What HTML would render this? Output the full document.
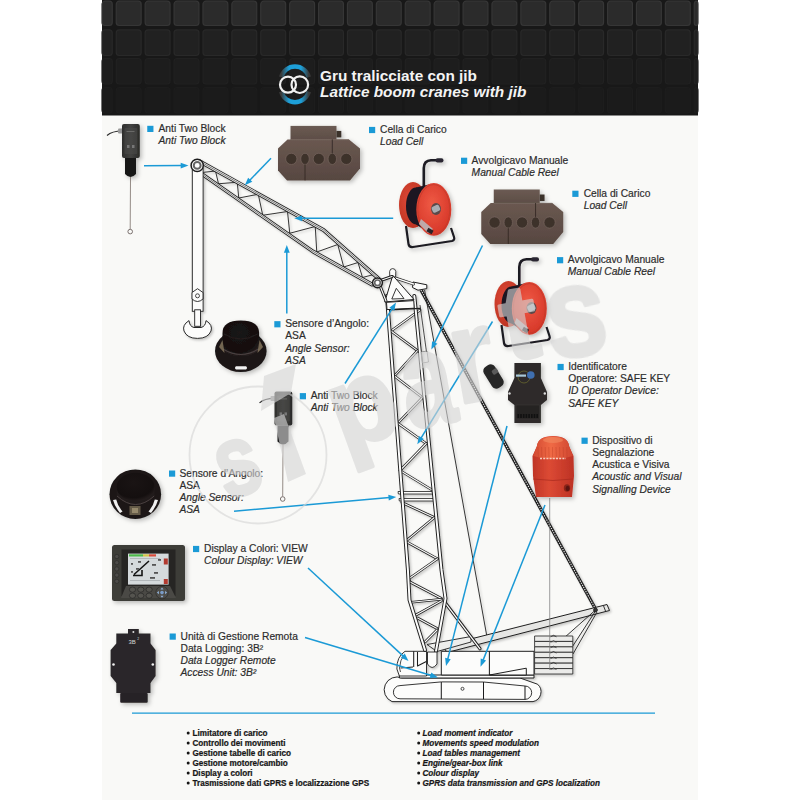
<!DOCTYPE html><html><head><meta charset="utf-8"><style>
html,body{margin:0;padding:0;background:#fff;width:800px;height:800px;overflow:hidden}
svg{display:block;position:absolute;left:0;top:0}
text{font-family:"Liberation Sans",sans-serif}
</style></head><body>
<svg width="800" height="800" viewBox="0 0 800 800">
<defs>
<filter id="sh" x="-10%" y="-10%" width="130%" height="130%"><feDropShadow dx="1.5" dy="1.5" stdDeviation="1.2" flood-color="#000" flood-opacity="0.22"/></filter>
<filter id="sh2" x="-20%" y="-20%" width="150%" height="150%"><feDropShadow dx="2" dy="2" stdDeviation="2" flood-color="#000" flood-opacity="0.25"/></filter>
<linearGradient id="hdr" x1="0" y1="0" x2="0" y2="1"><stop offset="0" stop-color="#1e1e1e"/><stop offset="1" stop-color="#161616"/></linearGradient>
<linearGradient id="blueArc" x1="0" y1="0" x2="1" y2="0"><stop offset="0" stop-color="#3a3a3a"/><stop offset="0.28" stop-color="#1d9fd8"/><stop offset="0.72" stop-color="#1d9fd8"/><stop offset="1" stop-color="#3a3a3a"/></linearGradient>
</defs>
<rect x="102" y="0" width="596" height="800" fill="#f9f9f7"/>
<rect x="102" y="0" width="596" height="115.5" fill="#181818"/>
<rect x="102.00" y="1.2" width="10.25" height="24.30" rx="3" fill="#2b2b2b" stroke="#363636" stroke-width="1.2"/>
<rect x="116.25" y="1.2" width="24.90" height="24.30" rx="3" fill="#2b2b2b" stroke="#363636" stroke-width="1.2"/>
<rect x="145.15" y="1.2" width="24.90" height="24.30" rx="3" fill="#2b2b2b" stroke="#363636" stroke-width="1.2"/>
<rect x="174.05" y="1.2" width="24.90" height="24.30" rx="3" fill="#2b2b2b" stroke="#363636" stroke-width="1.2"/>
<rect x="202.95" y="1.2" width="24.90" height="24.30" rx="3" fill="#2b2b2b" stroke="#363636" stroke-width="1.2"/>
<rect x="231.85" y="1.2" width="24.90" height="24.30" rx="3" fill="#2b2b2b" stroke="#363636" stroke-width="1.2"/>
<rect x="260.75" y="1.2" width="24.90" height="24.30" rx="3" fill="#2b2b2b" stroke="#363636" stroke-width="1.2"/>
<rect x="289.65" y="1.2" width="24.90" height="24.30" rx="3" fill="#2b2b2b" stroke="#363636" stroke-width="1.2"/>
<rect x="318.55" y="1.2" width="24.90" height="24.30" rx="3" fill="#2b2b2b" stroke="#363636" stroke-width="1.2"/>
<rect x="347.45" y="1.2" width="24.90" height="24.30" rx="3" fill="#2b2b2b" stroke="#363636" stroke-width="1.2"/>
<rect x="376.35" y="1.2" width="24.90" height="24.30" rx="3" fill="#2b2b2b" stroke="#363636" stroke-width="1.2"/>
<rect x="405.25" y="1.2" width="24.90" height="24.30" rx="3" fill="#2b2b2b" stroke="#363636" stroke-width="1.2"/>
<rect x="434.15" y="1.2" width="24.90" height="24.30" rx="3" fill="#2b2b2b" stroke="#363636" stroke-width="1.2"/>
<rect x="463.05" y="1.2" width="24.90" height="24.30" rx="3" fill="#2b2b2b" stroke="#363636" stroke-width="1.2"/>
<rect x="491.95" y="1.2" width="24.90" height="24.30" rx="3" fill="#2b2b2b" stroke="#363636" stroke-width="1.2"/>
<rect x="520.85" y="1.2" width="24.90" height="24.30" rx="3" fill="#2b2b2b" stroke="#363636" stroke-width="1.2"/>
<rect x="549.75" y="1.2" width="24.90" height="24.30" rx="3" fill="#2b2b2b" stroke="#363636" stroke-width="1.2"/>
<rect x="578.65" y="1.2" width="24.90" height="24.30" rx="3" fill="#2b2b2b" stroke="#363636" stroke-width="1.2"/>
<rect x="607.55" y="1.2" width="24.90" height="24.30" rx="3" fill="#2b2b2b" stroke="#363636" stroke-width="1.2"/>
<rect x="636.45" y="1.2" width="24.90" height="24.30" rx="3" fill="#2b2b2b" stroke="#363636" stroke-width="1.2"/>
<rect x="665.35" y="1.2" width="24.90" height="24.30" rx="3" fill="#2b2b2b" stroke="#363636" stroke-width="1.2"/>
<rect x="694.25" y="1.2" width="3.75" height="24.30" rx="3" fill="#2b2b2b" stroke="#363636" stroke-width="1.2"/>
<rect x="102.00" y="29.8" width="10.25" height="25.70" rx="3" fill="#212121" stroke="#292929" stroke-width="1.2"/>
<rect x="116.25" y="29.8" width="24.90" height="25.70" rx="3" fill="#212121" stroke="#292929" stroke-width="1.2"/>
<rect x="145.15" y="29.8" width="24.90" height="25.70" rx="3" fill="#212121" stroke="#292929" stroke-width="1.2"/>
<rect x="174.05" y="29.8" width="24.90" height="25.70" rx="3" fill="#212121" stroke="#292929" stroke-width="1.2"/>
<rect x="202.95" y="29.8" width="24.90" height="25.70" rx="3" fill="#212121" stroke="#292929" stroke-width="1.2"/>
<rect x="231.85" y="29.8" width="24.90" height="25.70" rx="3" fill="#212121" stroke="#292929" stroke-width="1.2"/>
<rect x="260.75" y="29.8" width="24.90" height="25.70" rx="3" fill="#212121" stroke="#292929" stroke-width="1.2"/>
<rect x="289.65" y="29.8" width="24.90" height="25.70" rx="3" fill="#212121" stroke="#292929" stroke-width="1.2"/>
<rect x="318.55" y="29.8" width="24.90" height="25.70" rx="3" fill="#212121" stroke="#292929" stroke-width="1.2"/>
<rect x="347.45" y="29.8" width="24.90" height="25.70" rx="3" fill="#212121" stroke="#292929" stroke-width="1.2"/>
<rect x="376.35" y="29.8" width="24.90" height="25.70" rx="3" fill="#212121" stroke="#292929" stroke-width="1.2"/>
<rect x="405.25" y="29.8" width="24.90" height="25.70" rx="3" fill="#212121" stroke="#292929" stroke-width="1.2"/>
<rect x="434.15" y="29.8" width="24.90" height="25.70" rx="3" fill="#212121" stroke="#292929" stroke-width="1.2"/>
<rect x="463.05" y="29.8" width="24.90" height="25.70" rx="3" fill="#212121" stroke="#292929" stroke-width="1.2"/>
<rect x="491.95" y="29.8" width="24.90" height="25.70" rx="3" fill="#212121" stroke="#292929" stroke-width="1.2"/>
<rect x="520.85" y="29.8" width="24.90" height="25.70" rx="3" fill="#212121" stroke="#292929" stroke-width="1.2"/>
<rect x="549.75" y="29.8" width="24.90" height="25.70" rx="3" fill="#212121" stroke="#292929" stroke-width="1.2"/>
<rect x="578.65" y="29.8" width="24.90" height="25.70" rx="3" fill="#212121" stroke="#292929" stroke-width="1.2"/>
<rect x="607.55" y="29.8" width="24.90" height="25.70" rx="3" fill="#212121" stroke="#292929" stroke-width="1.2"/>
<rect x="636.45" y="29.8" width="24.90" height="25.70" rx="3" fill="#212121" stroke="#292929" stroke-width="1.2"/>
<rect x="665.35" y="29.8" width="24.90" height="25.70" rx="3" fill="#212121" stroke="#292929" stroke-width="1.2"/>
<rect x="694.25" y="29.8" width="3.75" height="25.70" rx="3" fill="#212121" stroke="#292929" stroke-width="1.2"/>
<rect x="102.00" y="58.5" width="10.25" height="25.50" rx="3" fill="#1d1d1d" stroke="#212121" stroke-width="1.2"/>
<rect x="116.25" y="58.5" width="24.90" height="25.50" rx="3" fill="#1d1d1d" stroke="#212121" stroke-width="1.2"/>
<rect x="145.15" y="58.5" width="24.90" height="25.50" rx="3" fill="#1d1d1d" stroke="#212121" stroke-width="1.2"/>
<rect x="174.05" y="58.5" width="24.90" height="25.50" rx="3" fill="#1d1d1d" stroke="#212121" stroke-width="1.2"/>
<rect x="202.95" y="58.5" width="24.90" height="25.50" rx="3" fill="#1d1d1d" stroke="#212121" stroke-width="1.2"/>
<rect x="231.85" y="58.5" width="24.90" height="25.50" rx="3" fill="#1d1d1d" stroke="#212121" stroke-width="1.2"/>
<rect x="260.75" y="58.5" width="24.90" height="25.50" rx="3" fill="#1d1d1d" stroke="#212121" stroke-width="1.2"/>
<rect x="289.65" y="58.5" width="24.90" height="25.50" rx="3" fill="#1d1d1d" stroke="#212121" stroke-width="1.2"/>
<rect x="318.55" y="58.5" width="24.90" height="25.50" rx="3" fill="#1d1d1d" stroke="#212121" stroke-width="1.2"/>
<rect x="347.45" y="58.5" width="24.90" height="25.50" rx="3" fill="#1d1d1d" stroke="#212121" stroke-width="1.2"/>
<rect x="376.35" y="58.5" width="24.90" height="25.50" rx="3" fill="#1d1d1d" stroke="#212121" stroke-width="1.2"/>
<rect x="405.25" y="58.5" width="24.90" height="25.50" rx="3" fill="#1d1d1d" stroke="#212121" stroke-width="1.2"/>
<rect x="434.15" y="58.5" width="24.90" height="25.50" rx="3" fill="#1d1d1d" stroke="#212121" stroke-width="1.2"/>
<rect x="463.05" y="58.5" width="24.90" height="25.50" rx="3" fill="#1d1d1d" stroke="#212121" stroke-width="1.2"/>
<rect x="491.95" y="58.5" width="24.90" height="25.50" rx="3" fill="#1d1d1d" stroke="#212121" stroke-width="1.2"/>
<rect x="520.85" y="58.5" width="24.90" height="25.50" rx="3" fill="#1d1d1d" stroke="#212121" stroke-width="1.2"/>
<rect x="549.75" y="58.5" width="24.90" height="25.50" rx="3" fill="#1d1d1d" stroke="#212121" stroke-width="1.2"/>
<rect x="578.65" y="58.5" width="24.90" height="25.50" rx="3" fill="#1d1d1d" stroke="#212121" stroke-width="1.2"/>
<rect x="607.55" y="58.5" width="24.90" height="25.50" rx="3" fill="#1d1d1d" stroke="#212121" stroke-width="1.2"/>
<rect x="636.45" y="58.5" width="24.90" height="25.50" rx="3" fill="#1d1d1d" stroke="#212121" stroke-width="1.2"/>
<rect x="665.35" y="58.5" width="24.90" height="25.50" rx="3" fill="#1d1d1d" stroke="#212121" stroke-width="1.2"/>
<rect x="694.25" y="58.5" width="3.75" height="25.50" rx="3" fill="#1d1d1d" stroke="#212121" stroke-width="1.2"/>
<rect x="102.00" y="87.5" width="10.25" height="25.50" rx="3" fill="#1b1b1b" stroke="#1d1d1d" stroke-width="1.2"/>
<rect x="116.25" y="87.5" width="24.90" height="25.50" rx="3" fill="#1b1b1b" stroke="#1d1d1d" stroke-width="1.2"/>
<rect x="145.15" y="87.5" width="24.90" height="25.50" rx="3" fill="#1b1b1b" stroke="#1d1d1d" stroke-width="1.2"/>
<rect x="174.05" y="87.5" width="24.90" height="25.50" rx="3" fill="#1b1b1b" stroke="#1d1d1d" stroke-width="1.2"/>
<rect x="202.95" y="87.5" width="24.90" height="25.50" rx="3" fill="#1b1b1b" stroke="#1d1d1d" stroke-width="1.2"/>
<rect x="231.85" y="87.5" width="24.90" height="25.50" rx="3" fill="#1b1b1b" stroke="#1d1d1d" stroke-width="1.2"/>
<rect x="260.75" y="87.5" width="24.90" height="25.50" rx="3" fill="#1b1b1b" stroke="#1d1d1d" stroke-width="1.2"/>
<rect x="289.65" y="87.5" width="24.90" height="25.50" rx="3" fill="#1b1b1b" stroke="#1d1d1d" stroke-width="1.2"/>
<rect x="318.55" y="87.5" width="24.90" height="25.50" rx="3" fill="#1b1b1b" stroke="#1d1d1d" stroke-width="1.2"/>
<rect x="347.45" y="87.5" width="24.90" height="25.50" rx="3" fill="#1b1b1b" stroke="#1d1d1d" stroke-width="1.2"/>
<rect x="376.35" y="87.5" width="24.90" height="25.50" rx="3" fill="#1b1b1b" stroke="#1d1d1d" stroke-width="1.2"/>
<rect x="405.25" y="87.5" width="24.90" height="25.50" rx="3" fill="#1b1b1b" stroke="#1d1d1d" stroke-width="1.2"/>
<rect x="434.15" y="87.5" width="24.90" height="25.50" rx="3" fill="#1b1b1b" stroke="#1d1d1d" stroke-width="1.2"/>
<rect x="463.05" y="87.5" width="24.90" height="25.50" rx="3" fill="#1b1b1b" stroke="#1d1d1d" stroke-width="1.2"/>
<rect x="491.95" y="87.5" width="24.90" height="25.50" rx="3" fill="#1b1b1b" stroke="#1d1d1d" stroke-width="1.2"/>
<rect x="520.85" y="87.5" width="24.90" height="25.50" rx="3" fill="#1b1b1b" stroke="#1d1d1d" stroke-width="1.2"/>
<rect x="549.75" y="87.5" width="24.90" height="25.50" rx="3" fill="#1b1b1b" stroke="#1d1d1d" stroke-width="1.2"/>
<rect x="578.65" y="87.5" width="24.90" height="25.50" rx="3" fill="#1b1b1b" stroke="#1d1d1d" stroke-width="1.2"/>
<rect x="607.55" y="87.5" width="24.90" height="25.50" rx="3" fill="#1b1b1b" stroke="#1d1d1d" stroke-width="1.2"/>
<rect x="636.45" y="87.5" width="24.90" height="25.50" rx="3" fill="#1b1b1b" stroke="#1d1d1d" stroke-width="1.2"/>
<rect x="665.35" y="87.5" width="24.90" height="25.50" rx="3" fill="#1b1b1b" stroke="#1d1d1d" stroke-width="1.2"/>
<rect x="694.25" y="87.5" width="3.75" height="25.50" rx="3" fill="#1b1b1b" stroke="#1d1d1d" stroke-width="1.2"/>
<path d="M281.2,77.1 A14.3,14.3 0 0 1 308.8,77.1" fill="none" stroke="url(#blueArc)" stroke-width="4.4"/>
<path d="M281.2,91.7 A14.3,14.3 0 0 0 308.8,91.7" fill="none" stroke="url(#blueArc)" stroke-width="4.4"/>
<circle cx="288" cy="84.7" r="8" fill="none" stroke="#f0f0f0" stroke-width="2.2"/>
<circle cx="299.8" cy="84.7" r="8.3" fill="none" stroke="#f0f0f0" stroke-width="2.2"/>
<g transform="translate(320,0) scale(1.097,1)"><text x="0" y="80.6" font-size="14" font-weight="bold" fill="#f4f4f4">Gru tralicciate con jib</text>
<text x="0" y="97.5" font-size="14" font-weight="bold" font-style="italic" fill="#f4f4f4">Lattice boom cranes with jib</text></g>
<g id="crane" filter="url(#sh)">
<line x1="421" y1="290" x2="595.5" y2="609" stroke="#1f1f1f" stroke-width="3.3"/>
<line x1="421" y1="290" x2="595.5" y2="609" stroke="#e8e8e8" stroke-width="1.1" stroke-dasharray="1.3 1.1"/>
<polyline points="424.60,290.00 486.80,636.00" fill="none" stroke="#1f1f1f" stroke-width="0.9" stroke-linejoin="round"/>
<polygon points="443.00,646.00 607.00,604.50 609.50,610.50 447.00,652.50" fill="#e6e6e4" stroke="#1f1f1f" stroke-width="1.0" stroke-linejoin="round"/>
<polyline points="595.50,610.00 565.80,636.40" fill="none" stroke="#1f1f1f" stroke-width="0.9" stroke-linejoin="round"/>
<polyline points="595.50,611.00 572.80,646.00" fill="none" stroke="#1f1f1f" stroke-width="0.9" stroke-linejoin="round"/>
<polyline points="597.00,612.00 573.00,654.00" fill="none" stroke="#1f1f1f" stroke-width="0.9" stroke-linejoin="round"/>
<polyline points="603.50,605.80 605.50,611.00" fill="none" stroke="#1f1f1f" stroke-width="0.9" stroke-linejoin="round"/>
<circle cx="595.5" cy="610" r="1.9" fill="#333" stroke="#1f1f1f" stroke-width="0.9"/>
<polygon points="427.00,644.50 471.00,636.50 471.00,642.00 437.00,651.50" fill="#eeeeec" stroke="#1f1f1f" stroke-width="0.9" stroke-linejoin="round"/>
<polyline points="446.00,603.80 480.00,648.80" fill="none" stroke="#1f1f1f" stroke-width="3.2" stroke-linejoin="round" stroke-linecap="round"/>
<polyline points="446.00,603.80 480.00,648.80" fill="none" stroke="#fcfcfb" stroke-width="1.30" stroke-linejoin="round" stroke-linecap="round"/>
<path d="M402,678 L520,678 L537.5,684.2 A10,10 0 0 1 533,701.6 L392,701.6 A11.8,11.8 0 0 1 402,678 Z" fill="#fcfcfb" stroke="#1f1f1f" stroke-width="0.95"/>
<path d="M400,685.6 L441.3,681.9 L483.5,682 L525,686 A6.7,6.7 0 0 1 525,699.4 L400,698.8 A6.6,6.6 0 0 1 400,685.6 Z" fill="#fcfcfb" stroke="#1f1f1f" stroke-width="0.9"/>
<polyline points="441.30,682.00 441.30,699.00" fill="none" stroke="#1f1f1f" stroke-width="1.05" stroke-linejoin="round"/>
<polyline points="483.50,682.00 483.50,699.20" fill="none" stroke="#1f1f1f" stroke-width="1.05" stroke-linejoin="round"/>
<polyline points="525.00,686.00 525.00,699.40" fill="none" stroke="#1f1f1f" stroke-width="1.05" stroke-linejoin="round"/>
<circle cx="462.5" cy="688.8" r="1.5" fill="none" stroke="#1f1f1f" stroke-width="0.8"/>
<polygon points="399.40,675.00 534.00,675.00 534.00,678.00 399.40,678.00" fill="#fcfcfb" stroke="#1f1f1f" stroke-width="1.0" stroke-linejoin="round"/>
<polygon points="441.30,651.30 534.00,651.30 534.00,675.00 441.30,675.00" fill="#fcfcfb" stroke="#1f1f1f" stroke-width="1.0" stroke-linejoin="round"/>
<polyline points="489.40,651.30 489.40,675.00" fill="none" stroke="#1f1f1f" stroke-width="1.05" stroke-linejoin="round"/>
<polygon points="489.50,675.00 526.30,668.20 526.30,675.00" fill="#fcfcfb" stroke="#1f1f1f" stroke-width="1.0" stroke-linejoin="round"/>
<polygon points="534.60,636.00 572.80,636.00 572.80,641.43 534.60,641.43" fill="#ebebe9" stroke="#1f1f1f" stroke-width="0.8" stroke-linejoin="round"/>
<path d="M550.5,636.80 Q553.5,633.80 556.5,636.80" fill="#888" stroke="#1f1f1f" stroke-width="0.7"/>
<polygon points="534.60,641.43 572.80,641.43 572.80,646.86 534.60,646.86" fill="#ebebe9" stroke="#1f1f1f" stroke-width="0.8" stroke-linejoin="round"/>
<path d="M550.5,642.23 Q553.5,639.23 556.5,642.23" fill="#888" stroke="#1f1f1f" stroke-width="0.7"/>
<polygon points="534.60,646.86 572.80,646.86 572.80,652.29 534.60,652.29" fill="#ebebe9" stroke="#1f1f1f" stroke-width="0.8" stroke-linejoin="round"/>
<path d="M550.5,647.66 Q553.5,644.66 556.5,647.66" fill="#888" stroke="#1f1f1f" stroke-width="0.7"/>
<polygon points="534.60,652.29 572.80,652.29 572.80,657.72 534.60,657.72" fill="#ebebe9" stroke="#1f1f1f" stroke-width="0.8" stroke-linejoin="round"/>
<path d="M550.5,653.09 Q553.5,650.09 556.5,653.09" fill="#888" stroke="#1f1f1f" stroke-width="0.7"/>
<polygon points="534.60,657.72 572.80,657.72 572.80,663.15 534.60,663.15" fill="#ebebe9" stroke="#1f1f1f" stroke-width="0.8" stroke-linejoin="round"/>
<path d="M550.5,658.52 Q553.5,655.52 556.5,658.52" fill="#888" stroke="#1f1f1f" stroke-width="0.7"/>
<polygon points="534.60,663.15 572.80,663.15 572.80,668.58 534.60,668.58" fill="#ebebe9" stroke="#1f1f1f" stroke-width="0.8" stroke-linejoin="round"/>
<path d="M550.5,663.95 Q553.5,660.95 556.5,663.95" fill="#888" stroke="#1f1f1f" stroke-width="0.7"/>
<polygon points="534.60,668.58 572.80,668.58 572.80,674.01 534.60,674.01" fill="#ebebe9" stroke="#1f1f1f" stroke-width="0.8" stroke-linejoin="round"/>
<path d="M550.5,669.38 Q553.5,666.38 556.5,669.38" fill="#888" stroke="#1f1f1f" stroke-width="0.7"/>
<path d="M405,651.3 L426.5,651.3 L426.5,676 L399.4,676 L396.9,669 Q396.5,657 405,651.3 Z" fill="#fcfcfb" stroke="#1f1f1f" stroke-width="0.9"/>
<path d="M404,655 Q400,660 399.5,668 L400.5,672" fill="none" stroke="#1f1f1f" stroke-width="0.8"/>
<polyline points="413.70,651.30 413.70,667.00" fill="none" stroke="#1f1f1f" stroke-width="1.05" stroke-linejoin="round"/>
<polyline points="417.50,652.00 417.50,666.00 426.30,661.50" fill="none" stroke="#1f1f1f" stroke-width="1.05" stroke-linejoin="round"/>
<polyline points="400.50,668.00 413.00,667.00" fill="none" stroke="#1f1f1f" stroke-width="1.05" stroke-linejoin="round"/>
<polyline points="420.00,310.00 391.00,331.00" fill="none" stroke="#1f1f1f" stroke-width="2.6" stroke-linejoin="round" stroke-linecap="round"/>
<polyline points="420.00,310.00 391.00,331.00" fill="none" stroke="#fcfcfb" stroke-width="1.10" stroke-linejoin="round" stroke-linecap="round"/>
<polyline points="391.00,331.00 417.50,350.60" fill="none" stroke="#1f1f1f" stroke-width="2.6" stroke-linejoin="round" stroke-linecap="round"/>
<polyline points="391.00,331.00 417.50,350.60" fill="none" stroke="#fcfcfb" stroke-width="1.10" stroke-linejoin="round" stroke-linecap="round"/>
<polyline points="417.50,350.60 394.40,376.00" fill="none" stroke="#1f1f1f" stroke-width="2.6" stroke-linejoin="round" stroke-linecap="round"/>
<polyline points="417.50,350.60 394.40,376.00" fill="none" stroke="#fcfcfb" stroke-width="1.10" stroke-linejoin="round" stroke-linecap="round"/>
<polyline points="394.40,376.00 422.50,397.50" fill="none" stroke="#1f1f1f" stroke-width="2.6" stroke-linejoin="round" stroke-linecap="round"/>
<polyline points="394.40,376.00 422.50,397.50" fill="none" stroke="#fcfcfb" stroke-width="1.10" stroke-linejoin="round" stroke-linecap="round"/>
<polyline points="422.50,397.50 397.80,423.20" fill="none" stroke="#1f1f1f" stroke-width="2.6" stroke-linejoin="round" stroke-linecap="round"/>
<polyline points="422.50,397.50 397.80,423.20" fill="none" stroke="#fcfcfb" stroke-width="1.10" stroke-linejoin="round" stroke-linecap="round"/>
<polyline points="397.80,423.20 426.20,443.50" fill="none" stroke="#1f1f1f" stroke-width="2.6" stroke-linejoin="round" stroke-linecap="round"/>
<polyline points="397.80,423.20 426.20,443.50" fill="none" stroke="#fcfcfb" stroke-width="1.10" stroke-linejoin="round" stroke-linecap="round"/>
<polyline points="426.20,443.50 400.00,470.50" fill="none" stroke="#1f1f1f" stroke-width="2.6" stroke-linejoin="round" stroke-linecap="round"/>
<polyline points="426.20,443.50 400.00,470.50" fill="none" stroke="#fcfcfb" stroke-width="1.10" stroke-linejoin="round" stroke-linecap="round"/>
<polyline points="400.00,470.50 431.30,489.50" fill="none" stroke="#1f1f1f" stroke-width="2.6" stroke-linejoin="round" stroke-linecap="round"/>
<polyline points="400.00,470.50 431.30,489.50" fill="none" stroke="#fcfcfb" stroke-width="1.10" stroke-linejoin="round" stroke-linecap="round"/>
<polyline points="401.90,502.50 434.40,517.50" fill="none" stroke="#1f1f1f" stroke-width="2.6" stroke-linejoin="round" stroke-linecap="round"/>
<polyline points="401.90,502.50 434.40,517.50" fill="none" stroke="#fcfcfb" stroke-width="1.10" stroke-linejoin="round" stroke-linecap="round"/>
<polyline points="434.40,517.50 405.60,541.30" fill="none" stroke="#1f1f1f" stroke-width="2.6" stroke-linejoin="round" stroke-linecap="round"/>
<polyline points="434.40,517.50 405.60,541.30" fill="none" stroke="#fcfcfb" stroke-width="1.10" stroke-linejoin="round" stroke-linecap="round"/>
<polyline points="405.60,541.30 437.50,558.80" fill="none" stroke="#1f1f1f" stroke-width="2.6" stroke-linejoin="round" stroke-linecap="round"/>
<polyline points="405.60,541.30 437.50,558.80" fill="none" stroke="#fcfcfb" stroke-width="1.10" stroke-linejoin="round" stroke-linecap="round"/>
<polyline points="437.50,558.80 408.80,578.80" fill="none" stroke="#1f1f1f" stroke-width="2.6" stroke-linejoin="round" stroke-linecap="round"/>
<polyline points="437.50,558.80 408.80,578.80" fill="none" stroke="#fcfcfb" stroke-width="1.10" stroke-linejoin="round" stroke-linecap="round"/>
<polyline points="408.80,578.80 410.00,582.00" fill="none" stroke="#1f1f1f" stroke-width="2.6" stroke-linejoin="round" stroke-linecap="round"/>
<polyline points="408.80,578.80 410.00,582.00" fill="none" stroke="#fcfcfb" stroke-width="1.10" stroke-linejoin="round" stroke-linecap="round"/>
<polyline points="410.00,582.00 441.50,598.50" fill="none" stroke="#1f1f1f" stroke-width="2.6" stroke-linejoin="round" stroke-linecap="round"/>
<polyline points="410.00,582.00 441.50,598.50" fill="none" stroke="#fcfcfb" stroke-width="1.10" stroke-linejoin="round" stroke-linecap="round"/>
<polyline points="411.50,602.30 441.50,599.30" fill="none" stroke="#1f1f1f" stroke-width="2.6" stroke-linejoin="round" stroke-linecap="round"/>
<polyline points="411.50,602.30 441.50,599.30" fill="none" stroke="#fcfcfb" stroke-width="1.10" stroke-linejoin="round" stroke-linecap="round"/>
<polyline points="416.00,615.00 441.50,600.80" fill="none" stroke="#1f1f1f" stroke-width="2.6" stroke-linejoin="round" stroke-linecap="round"/>
<polyline points="416.00,615.00 441.50,600.80" fill="none" stroke="#fcfcfb" stroke-width="1.10" stroke-linejoin="round" stroke-linecap="round"/>
<polyline points="417.50,618.00 437.00,628.50" fill="none" stroke="#1f1f1f" stroke-width="2.6" stroke-linejoin="round" stroke-linecap="round"/>
<polyline points="417.50,618.00 437.00,628.50" fill="none" stroke="#fcfcfb" stroke-width="1.10" stroke-linejoin="round" stroke-linecap="round"/>
<polyline points="425.00,642.00 437.00,630.00" fill="none" stroke="#1f1f1f" stroke-width="2.6" stroke-linejoin="round" stroke-linecap="round"/>
<polyline points="425.00,642.00 437.00,630.00" fill="none" stroke="#fcfcfb" stroke-width="1.10" stroke-linejoin="round" stroke-linecap="round"/>
<polygon points="398.00,491.50 432.00,491.50 432.60,494.00 398.40,494.00" fill="#fcfcfb" stroke="#1f1f1f" stroke-width="0.8" stroke-linejoin="round"/>
<polygon points="399.00,498.50 433.20,498.50 433.60,501.00 399.30,501.00" fill="#fcfcfb" stroke="#1f1f1f" stroke-width="0.8" stroke-linejoin="round"/>
<polyline points="386.90,296.00 407.90,570.00 409.50,600.00 425.00,650.00" fill="none" stroke="#1f1f1f" stroke-width="3.9" stroke-linejoin="round" stroke-linecap="round"/>
<polyline points="386.90,296.00 407.90,570.00 409.50,600.00 425.00,650.00" fill="none" stroke="#fcfcfb" stroke-width="2.00" stroke-linejoin="round" stroke-linecap="round"/>
<polyline points="414.30,296.00 441.50,570.00 445.50,598.50 436.00,651.00" fill="none" stroke="#1f1f1f" stroke-width="3.9" stroke-linejoin="round" stroke-linecap="round"/>
<polyline points="414.30,296.00 441.50,570.00 445.50,598.50 436.00,651.00" fill="none" stroke="#fcfcfb" stroke-width="2.00" stroke-linejoin="round" stroke-linecap="round"/>
<path d="M427.5,652 L437,652 L437,664 Q432,671 427.5,664 Z" fill="#fcfcfb" stroke="#1f1f1f" stroke-width="0.9"/>
<polygon points="413.00,282.00 426.80,284.80 426.80,288.60 418.00,290.20 412.50,287.50" fill="#fcfcfb" stroke="#1f1f1f" stroke-width="1.0" stroke-linejoin="round"/>
<polyline points="395.00,277.80 413.50,284.00" fill="none" stroke="#1f1f1f" stroke-width="2.8" stroke-linejoin="round" stroke-linecap="round"/>
<polyline points="395.00,277.80 413.50,284.00" fill="none" stroke="#fcfcfb" stroke-width="1.40" stroke-linejoin="round" stroke-linecap="round"/>
<path d="M389.8,277 L389.6,271.5 Q390,268.6 392.7,268.6 Q395.4,268.6 395.8,271.5 L395.6,277 Z" fill="#fcfcfb" stroke="#1f1f1f" stroke-width="0.85"/>
<polygon points="392.75,275.40 384.80,302.00 414.00,299.50" fill="#fcfcfb" stroke="#1f1f1f" stroke-width="1.0" stroke-linejoin="round"/>
<path d="M396.3,288.3 L391.8,299 L404,298.6 Z" fill="none" stroke="#1f1f1f" stroke-width="0.9" stroke-linejoin="round"/>
<polygon points="386.50,302.30 413.80,300.60 414.20,308.20 387.00,309.60" fill="#fcfcfb" stroke="#1f1f1f" stroke-width="1.0" stroke-linejoin="round"/>
<polyline points="389.00,309.80 420.50,308.30" fill="none" stroke="#1f1f1f" stroke-width="1.3" stroke-linejoin="round"/>
<polyline points="420.00,305.00 426.50,352.00" fill="none" stroke="#1f1f1f" stroke-width="0.8" stroke-linejoin="round"/>
<polygon points="421,352 427,351 428.5,362 422.5,363" fill="none" stroke="#777" stroke-width="0.8"/>
<polyline points="380.50,280.50 392.00,276.50" fill="none" stroke="#1f1f1f" stroke-width="3.0" stroke-linejoin="round" stroke-linecap="round"/>
<polyline points="380.50,280.50 392.00,276.50" fill="none" stroke="#fcfcfb" stroke-width="1.10" stroke-linejoin="round" stroke-linecap="round"/>
<polyline points="380.50,287.00 386.00,301.00" fill="none" stroke="#1f1f1f" stroke-width="3.0" stroke-linejoin="round" stroke-linecap="round"/>
<polyline points="380.50,287.00 386.00,301.00" fill="none" stroke="#fcfcfb" stroke-width="1.10" stroke-linejoin="round" stroke-linecap="round"/>
<polyline points="202.00,172.50 215.50,171.00 218.50,183.75 237.25,182.25 238.75,198.00 258.25,194.25 262.75,215.25 287.50,211.50 289.75,233.25 315.25,226.50 316.75,252.00 337.75,244.50 343.75,267.00 358.00,262.50 362.50,277.50 373.75,274.50" fill="none" stroke="#1f1f1f" stroke-width="0.9" stroke-linejoin="round"/>
<polyline points="199.00,161.00 323.50,230.00 379.00,279.00" fill="none" stroke="#1f1f1f" stroke-width="3.8" stroke-linejoin="round" stroke-linecap="round"/>
<polyline points="199.00,161.00 323.50,230.00 379.00,279.00" fill="none" stroke="#fcfcfb" stroke-width="2.10" stroke-linejoin="round" stroke-linecap="round"/>
<polyline points="200.50,173.00 313.00,251.50 372.00,284.50" fill="none" stroke="#1f1f1f" stroke-width="3.8" stroke-linejoin="round" stroke-linecap="round"/>
<polyline points="200.50,173.00 313.00,251.50 372.00,284.50" fill="none" stroke="#fcfcfb" stroke-width="2.10" stroke-linejoin="round" stroke-linecap="round"/>
<polyline points="199.00,161.00 323.50,230.00 379.00,279.00" fill="none" stroke="#1f1f1f" stroke-width="0.6" stroke-linejoin="round"/>
<polyline points="200.50,173.00 313.00,251.50 372.00,284.50" fill="none" stroke="#1f1f1f" stroke-width="0.6" stroke-linejoin="round"/>
<rect x="192.3" y="168" width="10.8" height="143.3" fill="#fcfcfb" stroke="#1f1f1f" stroke-width="0.9"/>
<path d="M197.5,288.7 L203,292.5 L203,299 Q197.5,304 192,299 L192,292.5 Z" fill="#fcfcfb" stroke="#1f1f1f" stroke-width="0.9"/>
<circle cx="197.5" cy="295.8" r="2" fill="none" stroke="#1f1f1f" stroke-width="0.8"/>
<rect x="194.7" y="309.8" width="5.8" height="16.5" fill="#fcfcfb" stroke="#1f1f1f" stroke-width="0.9"/>
<path d="M189,320.6 Q182,325 184,331 Q187,338.4 197.5,338.4 Q208,338.4 211,331 Q213,325 206,320.6 Q205.5,326.5 201,327.5 L194,327.5 Q189.5,326.5 189,320.6 Z" fill="#fcfcfb" stroke="#1f1f1f" stroke-width="0.95" stroke-linejoin="round"/>
<circle cx="197.2" cy="165.4" r="6.10" fill="#fcfcfb" stroke="#1f1f1f" stroke-width="1.5"/>
<circle cx="197.2" cy="165.4" r="3.43" fill="none" stroke="#666" stroke-width="1.98"/>
<circle cx="197.2" cy="165.4" r="1.58" fill="#fff"/>
<circle cx="377.5" cy="282.8" r="4.90" fill="#fcfcfb" stroke="#1f1f1f" stroke-width="1.5"/>
<circle cx="377.5" cy="282.8" r="2.81" fill="none" stroke="#666" stroke-width="1.62"/>
<circle cx="377.5" cy="282.8" r="1.30" fill="#fff"/>
</g>
<line x1="549.7" y1="498" x2="549.7" y2="670" stroke="#777" stroke-width="0.7"/>
<!-- products -->
<defs>
<radialGradient id="redDisc" cx="0.45" cy="0.4" r="0.7"><stop offset="0" stop-color="#ef5a45"/><stop offset="0.8" stop-color="#d8392a"/><stop offset="1" stop-color="#b92c20"/></radialGradient>
<radialGradient id="redBack" cx="0.4" cy="0.4" r="0.7"><stop offset="0" stop-color="#e04a38"/><stop offset="1" stop-color="#b8301f"/></radialGradient>
<linearGradient id="brown" x1="0" y1="0" x2="0" y2="1"><stop offset="0" stop-color="#6a5850"/><stop offset="1" stop-color="#574741"/></linearGradient>
<linearGradient id="brownTop" x1="0" y1="0" x2="0" y2="1"><stop offset="0" stop-color="#6b5b53"/><stop offset="1" stop-color="#5d4d46"/></linearGradient>
<radialGradient id="blackCap" cx="0.45" cy="0.35" r="0.7"><stop offset="0" stop-color="#1a1414"/><stop offset="0.75" stop-color="#140f0f"/><stop offset="1" stop-color="#2a2222"/></radialGradient>
<linearGradient id="siren" x1="0" y1="0" x2="1" y2="0"><stop offset="0" stop-color="#bf3426"/><stop offset="0.4" stop-color="#dc4a34"/><stop offset="1" stop-color="#bd3225"/></linearGradient>
<linearGradient id="atb" x1="0" y1="0" x2="1" y2="0"><stop offset="0" stop-color="#2e2e2c"/><stop offset="0.5" stop-color="#434341"/><stop offset="1" stop-color="#2a2a28"/></linearGradient>
</defs>
<g transform="translate(278,139.4)" filter="url(#sh2)">
<rect x="12.5" y="-13.5" width="46" height="14" fill="url(#brownTop)"/>
<rect x="58.5" y="-8.5" width="4.8" height="6.5" fill="#3a302c"/>
<polygon points="9.5,0 71,0 82,9 82,29 72,41 9,41 0,31 0,9" fill="url(#brown)"/>
<line x1="12.5" y1="0.3" x2="71" y2="0.3" stroke="#7a6a62" stroke-width="0.8"/>
<ellipse cx="13.3" cy="19.5" rx="5.6" ry="5.6" fill="#3e302b" stroke="#7b6b63" stroke-width="0.6"/>
<ellipse cx="27" cy="19.5" rx="4.2" ry="5.6" fill="#3e302b" stroke="#7b6b63" stroke-width="0.6"/>
<ellipse cx="40.8" cy="19.5" rx="5.6" ry="5.6" fill="#3e302b" stroke="#7b6b63" stroke-width="0.6"/>
<ellipse cx="54.3" cy="19.5" rx="4.2" ry="5.6" fill="#3e302b" stroke="#7b6b63" stroke-width="0.6"/>
<ellipse cx="68.3" cy="19.5" rx="5.6" ry="5.6" fill="#3e302b" stroke="#7b6b63" stroke-width="0.6"/>
<line x1="27" y1="25" x2="27" y2="41" stroke="#2f2420" stroke-width="0.8"/>
<line x1="54.3" y1="0" x2="54.3" y2="14" stroke="#2f2420" stroke-width="0.8"/>
</g>
<g transform="translate(481.25,203)" filter="url(#sh2)">
<rect x="12.5" y="-13.5" width="46" height="14" fill="url(#brownTop)"/>
<rect x="58.5" y="-8.5" width="4.8" height="6.5" fill="#3a302c"/>
<polygon points="9.5,0 71,0 82,9 82,29 72,41 9,41 0,31 0,9" fill="url(#brown)"/>
<line x1="12.5" y1="0.3" x2="71" y2="0.3" stroke="#7a6a62" stroke-width="0.8"/>
<ellipse cx="13.3" cy="19.5" rx="5.6" ry="5.6" fill="#3e302b" stroke="#7b6b63" stroke-width="0.6"/>
<ellipse cx="27" cy="19.5" rx="4.2" ry="5.6" fill="#3e302b" stroke="#7b6b63" stroke-width="0.6"/>
<ellipse cx="40.8" cy="19.5" rx="5.6" ry="5.6" fill="#3e302b" stroke="#7b6b63" stroke-width="0.6"/>
<ellipse cx="54.3" cy="19.5" rx="4.2" ry="5.6" fill="#3e302b" stroke="#7b6b63" stroke-width="0.6"/>
<ellipse cx="68.3" cy="19.5" rx="5.6" ry="5.6" fill="#3e302b" stroke="#7b6b63" stroke-width="0.6"/>
<line x1="27" y1="25" x2="27" y2="41" stroke="#2f2420" stroke-width="0.8"/>
<line x1="54.3" y1="0" x2="54.3" y2="14" stroke="#2f2420" stroke-width="0.8"/>
</g>
<g transform="translate(0,0)" filter="url(#sh2)">
<path d="M423.8,190 L423.8,168 Q424,160.5 431,160.3 L437,160.3" fill="none" stroke="#1c1a22" stroke-width="2.6" stroke-linecap="round"/>
<rect x="435.5" y="158.2" width="8" height="4.3" rx="2" fill="#2a2830"/>
<path d="M406,226 L408.5,244 Q409,247.5 413,247 L452,241 Q455,240 454,237 L451,228" fill="none" stroke="#1c1a22" stroke-width="2.2" stroke-linejoin="round"/>
<ellipse cx="413" cy="205" rx="14" ry="23" fill="url(#redBack)"/>
<ellipse cx="416" cy="206" rx="10" ry="18.5" fill="#1a1620"/>
<path d="M416,187.5 L431,184 L431,234 L416,224.5 Z" fill="#1d1820"/>
<ellipse cx="433.8" cy="209.4" rx="17.5" ry="26.3" fill="url(#redDisc)"/>
<ellipse cx="433.8" cy="209.4" rx="16" ry="24.8" fill="none" stroke="#c23a2b" stroke-width="0.8"/>
<ellipse cx="436" cy="209" rx="5" ry="6" fill="#5a4a4a"/>
<rect x="432" y="205.5" width="8" height="6.5" rx="2" fill="#a9adb2" transform="rotate(-25 436 209)"/>
<path d="M421,219 L433,229 L428,233 L419,224 Z" fill="#b9bcc0" opacity="0.85"/>
<rect x="427" y="229" width="6" height="4" fill="#2a2428" transform="rotate(30 430 231)"/>
</g>
<g transform="translate(95.5,99)" filter="url(#sh2)">
<path d="M423.8,190 L423.8,168 Q424,160.5 431,160.3 L437,160.3" fill="none" stroke="#1c1a22" stroke-width="2.6" stroke-linecap="round"/>
<rect x="435.5" y="158.2" width="8" height="4.3" rx="2" fill="#2a2830"/>
<path d="M406,226 L408.5,244 Q409,247.5 413,247 L452,241 Q455,240 454,237 L451,228" fill="none" stroke="#1c1a22" stroke-width="2.2" stroke-linejoin="round"/>
<ellipse cx="413" cy="205" rx="14" ry="23" fill="url(#redBack)"/>
<ellipse cx="416" cy="206" rx="10" ry="18.5" fill="#1a1620"/>
<path d="M416,187.5 L431,184 L431,234 L416,224.5 Z" fill="#1d1820"/>
<ellipse cx="433.8" cy="209.4" rx="17.5" ry="26.3" fill="url(#redDisc)"/>
<ellipse cx="433.8" cy="209.4" rx="16" ry="24.8" fill="none" stroke="#c23a2b" stroke-width="0.8"/>
<ellipse cx="436" cy="209" rx="5" ry="6" fill="#5a4a4a"/>
<rect x="432" y="205.5" width="8" height="6.5" rx="2" fill="#a9adb2" transform="rotate(-25 436 209)"/>
<path d="M421,219 L433,229 L428,233 L419,224 Z" fill="#b9bcc0" opacity="0.85"/>
<rect x="427" y="229" width="6" height="4" fill="#2a2428" transform="rotate(30 430 231)"/>
</g>
<g transform="translate(215,320)" filter="url(#sh2)">
<ellipse cx="25.8" cy="31" rx="25.8" ry="21" fill="#1a1515"/>
<path d="M7.5,13 Q7.5,0.5 25.8,0.5 Q44.1,0.5 44.1,13 L44.1,31 Q25.8,42 7.5,31 Z" fill="url(#blackCap)"/>
<path d="M8,29 Q25.8,40 43.6,29" fill="none" stroke="#4a4040" stroke-width="1.1"/>
<path d="M9,14 Q25.8,24 42.6,14" fill="none" stroke="#2a2222" stroke-width="0.8"/>
</g>
<path d="M236,366.3 L246,366.3 Q248,368 246,369.6 L236,369.6 Q234,368 236,366.3 Z" fill="#f3f3f3"/>
<path d="M219,347 L222.5,340 L224.5,353 Z" fill="#8a7a60" opacity="0.8"/>
<path d="M263,347 L259.5,340 L257.5,353 Z" fill="#8a7a60" opacity="0.8"/>
<g filter="url(#sh2)">
<ellipse cx="135.3" cy="494.2" rx="25.8" ry="24.8" fill="#1a1515"/>
</g>
<path d="M116.6,487 L116.6,496 Q135.6,514 154.6,496 L154.6,487 Z" fill="#211b1b"/>
<path d="M117,496 Q135.6,513 154.2,496" fill="none" stroke="#4a4040" stroke-width="1"/>
<ellipse cx="135.6" cy="487" rx="19" ry="14.2" fill="url(#blackCap)"/>
<path d="M113,500 Q114.5,506 120,513 L122.5,511.5 Q117.5,505.5 116.2,499.5 Z" fill="#f0f0f0"/>
<path d="M158,500 Q156.5,506 151,513 L148.5,511.5 Q153.5,505.5 154.8,499.5 Z" fill="#f0f0f0"/>
<rect x="129.5" y="506" width="11" height="9" fill="#6e634e" opacity="0.9"/>
<rect x="132" y="508" width="6" height="5" fill="#a39576" opacity="0.8"/>
<g transform="translate(0,0)">
<path d="M107,135.5 Q112,131 122,131" fill="none" stroke="#2a2a2a" stroke-width="1.1"/>
<rect x="118" y="128.5" width="5" height="5" rx="1" fill="#9a9a9a"/>
<g filter="url(#sh2)"><rect x="122" y="124" width="17.8" height="34" rx="2" fill="url(#atb)"/>
<path d="M125,158 L136,158 L136,174 Q130.5,180 125,174 Z" fill="#141414"/></g>
<rect x="124.5" y="128" width="12.8" height="26" rx="1" fill="#4a4a48" opacity="0.55"/>
<rect x="126.5" y="131" width="8" height="1" fill="#6a6a68"/><rect x="127" y="145" width="2.5" height="3" fill="#777"/><rect x="132" y="145" width="2.5" height="3" fill="#777"/>
<line x1="130.5" y1="177" x2="130.2" y2="229" stroke="#7a6e68" stroke-width="0.8"/>
<circle cx="130.2" cy="231.6" r="2.3" fill="none" stroke="#6e6462" stroke-width="0.9"/>
</g>
<g transform="translate(152.5,267.4)">
<path d="M107,135.5 Q112,131 122,131" fill="none" stroke="#2a2a2a" stroke-width="1.1"/>
<rect x="118" y="128.5" width="5" height="5" rx="1" fill="#9a9a9a"/>
<g filter="url(#sh2)"><rect x="122" y="124" width="17.8" height="34" rx="2" fill="url(#atb)"/>
<path d="M125,158 L136,158 L136,174 Q130.5,180 125,174 Z" fill="#141414"/></g>
<rect x="124.5" y="128" width="12.8" height="26" rx="1" fill="#4a4a48" opacity="0.55"/>
<rect x="126.5" y="131" width="8" height="1" fill="#6a6a68"/><rect x="127" y="145" width="2.5" height="3" fill="#777"/><rect x="132" y="145" width="2.5" height="3" fill="#777"/>
<line x1="130.5" y1="177" x2="130.2" y2="229" stroke="#7a6e68" stroke-width="0.8"/>
<circle cx="130.2" cy="231.6" r="2.3" fill="none" stroke="#6e6462" stroke-width="0.9"/>
</g>
<g filter="url(#sh2)">
<rect x="112" y="545" width="73" height="56" rx="2.5" fill="#3d3c39"/>
</g>
<path d="M121.5,549.5 L175.5,549.5 L175.5,596 L121.5,596 Z" fill="#262523"/>
<path d="M126,586 L170,586 L176,598 L121,598 Z" fill="#4a4945"/>
<rect x="128" y="553.6" width="40.6" height="31" fill="#d5dadc"/>
<rect x="129" y="554.3" width="14" height="2.2" fill="#4dba4a"/>
<rect x="143" y="554.3" width="6" height="2.2" fill="#d8c54a"/>
<rect x="149" y="554.3" width="7" height="2.2" fill="#d84a3a"/>
<rect x="163.8" y="558.5" width="4" height="6" fill="#b23a30"/>
<rect x="163.8" y="579" width="4" height="5" fill="#b23a30"/>
<path d="M134,574.5 L149,561 M133,575.5 L142,575.5 L142,570" stroke="#151515" stroke-width="1.6" fill="none"/>
<path d="M130,558.5 h30 M130,580.5 h30" stroke="#9a9fa2" stroke-width="0.6"/>
<rect x="138" y="561" width="3" height="1.8" fill="#555"/>
<rect x="152" y="564" width="4" height="1.8" fill="#555"/>
<rect x="154" y="572" width="4" height="1.8" fill="#555"/>
<rect x="136" y="568" width="3" height="1.8" fill="#555"/>
<rect x="150" y="577" width="5" height="1.8" fill="#555"/>
<rect x="131" y="563" width="2" height="1.8" fill="#555"/>
<rect x="131" y="571" width="2" height="1.8" fill="#555"/>
<rect x="158" y="559" width="3" height="1.8" fill="#555"/>
<circle cx="116.8" cy="556.5" r="2.1" fill="#4c4b48" stroke="#242424" stroke-width="0.5"/>
<circle cx="116.8" cy="562.7" r="2.1" fill="#4c4b48" stroke="#242424" stroke-width="0.5"/>
<circle cx="116.8" cy="568.9" r="2.1" fill="#4c4b48" stroke="#242424" stroke-width="0.5"/>
<circle cx="116.8" cy="575.1" r="2.1" fill="#4c4b48" stroke="#242424" stroke-width="0.5"/>
<circle cx="116.8" cy="581.3" r="2.1" fill="#4c4b48" stroke="#242424" stroke-width="0.5"/>
<ellipse cx="132.5" cy="589.6" rx="3.1" ry="2.6" fill="#55544f" stroke="#202020" stroke-width="0.6"/>
<ellipse cx="140.8" cy="589.6" rx="3.1" ry="2.6" fill="#55544f" stroke="#202020" stroke-width="0.6"/>
<ellipse cx="149.1" cy="589.6" rx="3.1" ry="2.6" fill="#55544f" stroke="#202020" stroke-width="0.6"/>
<ellipse cx="132.5" cy="595.7" rx="3.1" ry="2.6" fill="#55544f" stroke="#202020" stroke-width="0.6"/>
<ellipse cx="140.8" cy="595.7" rx="3.1" ry="2.6" fill="#55544f" stroke="#202020" stroke-width="0.6"/>
<ellipse cx="149.1" cy="595.7" rx="3.1" ry="2.6" fill="#55544f" stroke="#202020" stroke-width="0.6"/>
<circle cx="162" cy="592.6" r="6.2" fill="#4e4d49" stroke="#222" stroke-width="0.5"/>
<path d="M162,587.5 l1.6,2 h-3.2 Z M162,597.7 l1.6,-2 h-3.2 Z M156.9,592.6 l2,1.6 v-3.2 Z M167.1,592.6 l-2,1.6 v-3.2 Z" fill="#8fb0d8"/>
<circle cx="162" cy="592.6" r="1.8" fill="#7a9cc8"/>
<g filter="url(#sh2)">
<rect x="128" y="629" width="10.8" height="6" fill="#2a2629"/>
<polygon points="116.3,643.6 110.6,650 110.6,676 116.3,683 150.5,683 155.6,676 155.6,650 150.5,643.6" fill="#2a2629"/>
<rect x="116.3" y="633.5" width="34.2" height="59.5" fill="#2c282b"/>
<rect x="120.2" y="693" width="27.5" height="9.7" rx="1" fill="#262225"/>
</g>
<circle cx="113.5" cy="664.5" r="1.3" fill="#f0f0f0"/><circle cx="152.8" cy="664.5" r="1.3" fill="#f0f0f0"/>
<circle cx="133.4" cy="632" r="1" fill="#ddd"/>
<text x="128.5" y="643.5" font-family="Liberation Serif" font-size="6" fill="#d8d8d8">3B</text><text x="137.3" y="639.5" font-family="Liberation Serif" font-size="3.5" fill="#d8d8d8">2</text>
<g filter="url(#sh2)">
<rect x="487" y="364" width="13" height="25" rx="5" fill="#262626" transform="rotate(-32 493.5 376.5)"/>
<rect x="492" y="369" width="6" height="5" rx="1.5" fill="#5a5a5a" transform="rotate(-32 495 371.5)"/>
<polygon points="514.4,363 540.9,363 540.9,378 547,392 547,400 540.9,405 540.9,423 514.4,423 514.4,405 508,400 508,392 514.4,378" fill="#2e2c2b"/>
</g>
<rect x="516" y="405" width="23.5" height="14" fill="#252322" stroke="#3a3836" stroke-width="0.6"/>
<rect x="517.5" y="414" width="1.6" height="4" fill="#111"/>
<rect x="520.2" y="414" width="1.6" height="4" fill="#111"/>
<rect x="522.9" y="414" width="1.6" height="4" fill="#111"/>
<rect x="525.6" y="414" width="1.6" height="4" fill="#111"/>
<rect x="528.3" y="414" width="1.6" height="4" fill="#111"/>
<rect x="531.0" y="414" width="1.6" height="4" fill="#111"/>
<rect x="533.7" y="414" width="1.6" height="4" fill="#111"/>
<rect x="536.4" y="414" width="1.6" height="4" fill="#111"/>
<circle cx="524" cy="377" r="6" fill="none" stroke="#7a7a30" stroke-width="0.6"/>
<rect x="516" y="374.5" width="10" height="2.2" fill="#a8c8d8"/>
<circle cx="530.8" cy="375" r="3.8" fill="#3f6fb0"/>
<circle cx="509.5" cy="393.5" r="1.2" fill="#ddd"/><circle cx="544.8" cy="393.5" r="1.2" fill="#ddd"/>
<defs><linearGradient id="sirenDome" x1="0" y1="0" x2="1" y2="0"><stop offset="0" stop-color="#d24a32"/><stop offset="0.45" stop-color="#f06a45"/><stop offset="1" stop-color="#cf4530"/></linearGradient></defs>
<g filter="url(#sh2)">
<path d="M537,446 Q538,436 553,436 Q568,436 569,446 L573.5,456 L574,476 L572,497 L536,497 L533,476 L532.5,456 Z" fill="url(#siren)"/>
</g>
<path d="M537,446 Q538,436.5 553,436.5 Q568,436.5 569,446 L573,456 Q553,462 533,456 Z" fill="url(#sirenDome)"/>
<ellipse cx="553" cy="440" rx="10" ry="3" fill="#f28a60" opacity="0.6"/>
<line x1="538.0" y1="447" x2="538.3" y2="457" stroke="#b83a25" stroke-width="0.5" opacity="0.7"/>
<line x1="541.6" y1="447" x2="541.9" y2="457" stroke="#b83a25" stroke-width="0.5" opacity="0.7"/>
<line x1="545.2" y1="447" x2="545.5" y2="457" stroke="#b83a25" stroke-width="0.5" opacity="0.7"/>
<line x1="548.8" y1="447" x2="549.1" y2="457" stroke="#b83a25" stroke-width="0.5" opacity="0.7"/>
<line x1="552.4" y1="447" x2="552.7" y2="457" stroke="#b83a25" stroke-width="0.5" opacity="0.7"/>
<line x1="556.0" y1="447" x2="556.3" y2="457" stroke="#b83a25" stroke-width="0.5" opacity="0.7"/>
<line x1="559.6" y1="447" x2="559.9" y2="457" stroke="#b83a25" stroke-width="0.5" opacity="0.7"/>
<line x1="563.2" y1="447" x2="563.5" y2="457" stroke="#b83a25" stroke-width="0.5" opacity="0.7"/>
<line x1="566.8" y1="447" x2="567.1" y2="457" stroke="#b83a25" stroke-width="0.5" opacity="0.7"/>
<path d="M540,458.5 L566,458.5" stroke="#f6d0c0" stroke-width="1.6" stroke-dasharray="2 1.2"/>
<path d="M533,479 Q553,482 573,479" stroke="#a82a1e" stroke-width="0.7" fill="none"/>
<ellipse cx="567" cy="488" rx="3.2" ry="3.8" fill="#8a2418"/>
<ellipse cx="567.6" cy="488.4" rx="2" ry="2.6" fill="#5a1410"/>
<g id="labels">
<rect x="147.25" y="125.80" width="6.2" height="6.2" fill="#1b9ad6"/>
<text x="158.50" y="131.90" font-size="10.25" fill="#2c2c2c" stroke="#2c2c2c" stroke-width="0.18">Anti Two Block</text>
<text x="158.50" y="144.10" font-size="10.25" fill="#2c2c2c" stroke="#2c2c2c" stroke-width="0.18" font-style="italic">Anti Two Block</text>
<rect x="369.00" y="126.90" width="6.2" height="6.2" fill="#1b9ad6"/>
<text x="380.00" y="133.00" font-size="10.25" fill="#2c2c2c" stroke="#2c2c2c" stroke-width="0.18">Cella di Carico</text>
<text x="380.00" y="145.20" font-size="10.25" fill="#2c2c2c" stroke="#2c2c2c" stroke-width="0.18" font-style="italic">Load Cell</text>
<rect x="461.00" y="157.70" width="6.2" height="6.2" fill="#1b9ad6"/>
<text x="471.60" y="163.80" font-size="10.25" fill="#2c2c2c" stroke="#2c2c2c" stroke-width="0.18">Avvolgicavo Manuale</text>
<text x="471.60" y="176.00" font-size="10.25" fill="#2c2c2c" stroke="#2c2c2c" stroke-width="0.18" font-style="italic">Manual Cable Reel</text>
<rect x="572.30" y="190.70" width="6.2" height="6.2" fill="#1b9ad6"/>
<text x="583.70" y="196.80" font-size="10.25" fill="#2c2c2c" stroke="#2c2c2c" stroke-width="0.18">Cella di Carico</text>
<text x="583.70" y="209.00" font-size="10.25" fill="#2c2c2c" stroke="#2c2c2c" stroke-width="0.18" font-style="italic">Load Cell</text>
<rect x="557.00" y="257.10" width="6.2" height="6.2" fill="#1b9ad6"/>
<text x="567.80" y="263.20" font-size="10.25" fill="#2c2c2c" stroke="#2c2c2c" stroke-width="0.18">Avvolgicavo Manuale</text>
<text x="567.80" y="275.40" font-size="10.25" fill="#2c2c2c" stroke="#2c2c2c" stroke-width="0.18" font-style="italic">Manual Cable Reel</text>
<rect x="274.30" y="321.15" width="6.2" height="6.2" fill="#1b9ad6"/>
<text x="285.25" y="327.25" font-size="10.25" fill="#2c2c2c" stroke="#2c2c2c" stroke-width="0.18">Sensore d’Angolo:</text>
<text x="285.25" y="339.45" font-size="10.25" fill="#2c2c2c" stroke="#2c2c2c" stroke-width="0.18">ASA</text>
<text x="285.25" y="351.65" font-size="10.25" fill="#2c2c2c" stroke="#2c2c2c" stroke-width="0.18" font-style="italic">Angle Sensor:</text>
<text x="285.25" y="363.85" font-size="10.25" fill="#2c2c2c" stroke="#2c2c2c" stroke-width="0.18" font-style="italic">ASA</text>
<rect x="299.80" y="393.10" width="6.2" height="6.2" fill="#1b9ad6"/>
<text x="310.70" y="399.20" font-size="10.25" fill="#2c2c2c" stroke="#2c2c2c" stroke-width="0.18">Anti Two Block</text>
<text x="310.70" y="411.40" font-size="10.25" fill="#2c2c2c" stroke="#2c2c2c" stroke-width="0.18" font-style="italic">Anti Two Block</text>
<rect x="557.50" y="363.90" width="6.2" height="6.2" fill="#1b9ad6"/>
<text x="568.20" y="370.00" font-size="10.25" fill="#2c2c2c" stroke="#2c2c2c" stroke-width="0.18">Identificatore</text>
<text x="568.20" y="382.20" font-size="10.25" fill="#2c2c2c" stroke="#2c2c2c" stroke-width="0.18">Operatore: SAFE KEY</text>
<text x="568.20" y="394.40" font-size="10.25" fill="#2c2c2c" stroke="#2c2c2c" stroke-width="0.18" font-style="italic">ID Operator Device:</text>
<text x="568.20" y="406.60" font-size="10.25" fill="#2c2c2c" stroke="#2c2c2c" stroke-width="0.18" font-style="italic">SAFE KEY</text>
<rect x="581.50" y="437.65" width="6.2" height="6.2" fill="#1b9ad6"/>
<text x="592.20" y="443.75" font-size="10.25" fill="#2c2c2c" stroke="#2c2c2c" stroke-width="0.18">Dispositivo di</text>
<text x="592.20" y="455.95" font-size="10.25" fill="#2c2c2c" stroke="#2c2c2c" stroke-width="0.18">Segnalazione</text>
<text x="592.20" y="468.15" font-size="10.25" fill="#2c2c2c" stroke="#2c2c2c" stroke-width="0.18">Acustica e Visiva</text>
<text x="592.20" y="480.35" font-size="10.25" fill="#2c2c2c" stroke="#2c2c2c" stroke-width="0.18" font-style="italic">Acoustic and Visual</text>
<text x="592.20" y="492.55" font-size="10.25" fill="#2c2c2c" stroke="#2c2c2c" stroke-width="0.18" font-style="italic">Signalling Device</text>
<rect x="169.00" y="470.50" width="6.2" height="6.2" fill="#1b9ad6"/>
<text x="179.40" y="476.60" font-size="10.25" fill="#2c2c2c" stroke="#2c2c2c" stroke-width="0.18">Sensore d’Angolo:</text>
<text x="179.40" y="488.80" font-size="10.25" fill="#2c2c2c" stroke="#2c2c2c" stroke-width="0.18">ASA</text>
<text x="179.40" y="501.00" font-size="10.25" fill="#2c2c2c" stroke="#2c2c2c" stroke-width="0.18" font-style="italic">Angle Sensor:</text>
<text x="179.40" y="513.20" font-size="10.25" fill="#2c2c2c" stroke="#2c2c2c" stroke-width="0.18" font-style="italic">ASA</text>
<rect x="193.00" y="545.90" width="6.2" height="6.2" fill="#1b9ad6"/>
<text x="204.00" y="552.00" font-size="10.25" fill="#2c2c2c" stroke="#2c2c2c" stroke-width="0.18">Display a Colori: VIEW</text>
<text x="204.00" y="564.20" font-size="10.25" fill="#2c2c2c" stroke="#2c2c2c" stroke-width="0.18" font-style="italic">Colour Display: VIEW</text>
<rect x="169.60" y="633.50" width="6.2" height="6.2" fill="#1b9ad6"/>
<text x="180.50" y="639.60" font-size="10.25" fill="#2c2c2c" stroke="#2c2c2c" stroke-width="0.18">Unità di Gestione Remota</text>
<text x="180.50" y="651.80" font-size="10.25" fill="#2c2c2c" stroke="#2c2c2c" stroke-width="0.18">Data Logging: 3B²</text>
<text x="180.50" y="664.00" font-size="10.25" fill="#2c2c2c" stroke="#2c2c2c" stroke-width="0.18" font-style="italic">Data Logger Remote</text>
<text x="180.50" y="676.20" font-size="10.25" fill="#2c2c2c" stroke="#2c2c2c" stroke-width="0.18" font-style="italic">Access Unit: 3B²</text>
</g>
<line x1="132" y1="713.2" x2="655" y2="713.2" stroke="#1b9ad6" stroke-width="1.3"/>
<circle cx="188.2" cy="733.10" r="1.5" fill="#161616"/>
<text x="192.5" y="735.50" font-size="8.15" font-weight="bold" fill="#161616" stroke="#161616" stroke-width="0.22">Limitatore di carico</text>
<circle cx="188.2" cy="743.10" r="1.5" fill="#161616"/>
<text x="192.5" y="745.50" font-size="8.15" font-weight="bold" fill="#161616" stroke="#161616" stroke-width="0.22">Controllo dei movimenti</text>
<circle cx="188.2" cy="753.10" r="1.5" fill="#161616"/>
<text x="192.5" y="755.50" font-size="8.15" font-weight="bold" fill="#161616" stroke="#161616" stroke-width="0.22">Gestione tabelle di carico</text>
<circle cx="188.2" cy="763.10" r="1.5" fill="#161616"/>
<text x="192.5" y="765.50" font-size="8.15" font-weight="bold" fill="#161616" stroke="#161616" stroke-width="0.22">Gestione motore/cambio</text>
<circle cx="188.2" cy="773.10" r="1.5" fill="#161616"/>
<text x="192.5" y="775.50" font-size="8.15" font-weight="bold" fill="#161616" stroke="#161616" stroke-width="0.22">Display a colori</text>
<circle cx="188.2" cy="783.10" r="1.5" fill="#161616"/>
<text x="192.5" y="785.50" font-size="8.15" font-weight="bold" fill="#161616" stroke="#161616" stroke-width="0.22">Trasmissione dati GPRS e localizzazione GPS</text>
<circle cx="418.7" cy="733.10" r="1.5" fill="#161616"/>
<text x="422.5" y="735.50" font-size="8.15" font-weight="bold" font-style="italic" fill="#161616" stroke="#161616" stroke-width="0.22">Load moment indicator</text>
<circle cx="418.7" cy="743.10" r="1.5" fill="#161616"/>
<text x="422.5" y="745.50" font-size="8.15" font-weight="bold" font-style="italic" fill="#161616" stroke="#161616" stroke-width="0.22">Movements speed modulation</text>
<circle cx="418.7" cy="753.10" r="1.5" fill="#161616"/>
<text x="422.5" y="755.50" font-size="8.15" font-weight="bold" font-style="italic" fill="#161616" stroke="#161616" stroke-width="0.22">Load tables management</text>
<circle cx="418.7" cy="763.10" r="1.5" fill="#161616"/>
<text x="422.5" y="765.50" font-size="8.15" font-weight="bold" font-style="italic" fill="#161616" stroke="#161616" stroke-width="0.22">Engine/gear-box link</text>
<circle cx="418.7" cy="773.10" r="1.5" fill="#161616"/>
<text x="422.5" y="775.50" font-size="8.15" font-weight="bold" font-style="italic" fill="#161616" stroke="#161616" stroke-width="0.22">Colour display</text>
<circle cx="418.7" cy="783.10" r="1.5" fill="#161616"/>
<text x="422.5" y="785.50" font-size="8.15" font-weight="bold" font-style="italic" fill="#161616" stroke="#161616" stroke-width="0.22">GPRS data transmission and GPS localization</text>
<g id="arrows">
<line x1="144" y1="165.7" x2="181.70" y2="165.53" stroke="#1b9ad6" stroke-width="1.5"/>
<path d="M188.50,165.50 L180.71,168.44 L180.69,162.64 Z" fill="#1b9ad6"/>
<line x1="271" y1="158.3" x2="249.54" y2="180.42" stroke="#1b9ad6" stroke-width="1.5"/>
<path d="M244.80,185.30 L248.15,177.68 L252.31,181.72 Z" fill="#1b9ad6"/>
<line x1="393.2" y1="218.3" x2="301.10" y2="218.30" stroke="#1b9ad6" stroke-width="1.5"/>
<path d="M294.30,218.30 L302.10,215.40 L302.10,221.20 Z" fill="#1b9ad6"/>
<line x1="286.8" y1="313.6" x2="286.80" y2="251.80" stroke="#1b9ad6" stroke-width="1.5"/>
<path d="M286.80,245.00 L289.70,252.80 L283.90,252.80 Z" fill="#1b9ad6"/>
<line x1="345" y1="383.5" x2="392.37" y2="308.35" stroke="#1b9ad6" stroke-width="1.5"/>
<path d="M396.00,302.60 L394.29,310.74 L389.39,307.65 Z" fill="#1b9ad6"/>
<line x1="482.5" y1="245.5" x2="434.30" y2="343.40" stroke="#1b9ad6" stroke-width="1.5"/>
<path d="M431.30,349.50 L432.14,341.22 L437.35,343.78 Z" fill="#1b9ad6"/>
<line x1="492.5" y1="321.5" x2="420.85" y2="438.40" stroke="#1b9ad6" stroke-width="1.5"/>
<path d="M417.30,444.20 L418.90,436.03 L423.85,439.07 Z" fill="#1b9ad6"/>
<line x1="234" y1="511.3" x2="389.53" y2="497.50" stroke="#1b9ad6" stroke-width="1.5"/>
<path d="M396.30,496.90 L388.79,500.48 L388.27,494.70 Z" fill="#1b9ad6"/>
<line x1="308" y1="568" x2="403.51" y2="656.38" stroke="#1b9ad6" stroke-width="1.5"/>
<path d="M408.50,661.00 L400.81,657.83 L404.74,653.57 Z" fill="#1b9ad6"/>
<line x1="305" y1="637.5" x2="431.49" y2="675.54" stroke="#1b9ad6" stroke-width="1.5"/>
<path d="M438.00,677.50 L429.70,678.03 L431.37,672.48 Z" fill="#1b9ad6"/>
<line x1="507" y1="426" x2="447.68" y2="659.41" stroke="#1b9ad6" stroke-width="1.5"/>
<path d="M446.00,666.00 L445.11,657.73 L450.73,659.15 Z" fill="#1b9ad6"/>
<line x1="545" y1="505" x2="483.02" y2="660.38" stroke="#1b9ad6" stroke-width="1.5"/>
<path d="M480.50,666.70 L480.70,658.38 L486.08,660.53 Z" fill="#1b9ad6"/>
</g>
<g id="wm" opacity="0.62">
<circle cx="258" cy="455" r="68.5" fill="none" stroke="#d6d6d6" stroke-width="1.8"/>
<text x="0" y="0" font-size="96" font-weight="bold" fill="#d6d6d6" stroke="#d6d6d6" stroke-width="3" stroke-linejoin="round" transform="translate(226,500) rotate(-18) scale(0.82,1.05)">s</text>
<polygon points="264,376 296,364 291,393 261,411" fill="#d6d6d6"/>
<polygon points="274,418 284,414 306,474 288,482" fill="#d6d6d6"/>
<text x="0" y="0" text-anchor="middle" font-size="132" font-weight="bold" fill="#d6d6d6" stroke="#d6d6d6" stroke-width="4" stroke-linejoin="round" transform="translate(375,440) rotate(-20) scale(0.83,0.88)">p</text>
<text x="0" y="0" text-anchor="middle" font-size="132" font-weight="bold" fill="#d6d6d6" stroke="#d6d6d6" stroke-width="4" stroke-linejoin="round" transform="translate(434,424) rotate(-10) scale(0.7,1)">a</text>
<text x="0" y="0" text-anchor="middle" font-size="132" font-weight="bold" fill="#d6d6d6" stroke="#d6d6d6" stroke-width="4" stroke-linejoin="round" transform="translate(479,400) rotate(-10) scale(0.83,1)">r</text>
<text x="0" y="0" text-anchor="middle" font-size="132" font-weight="bold" fill="#d6d6d6" stroke="#d6d6d6" stroke-width="4" stroke-linejoin="round" transform="translate(525.5,358) rotate(-10) scale(0.83,0.8)">t</text>
<text x="0" y="0" text-anchor="middle" font-size="132" font-weight="bold" fill="#d6d6d6" stroke="#d6d6d6" stroke-width="4" stroke-linejoin="round" transform="translate(581,355) rotate(-8) scale(0.83,0.95)">s</text>
</g>
</svg></body></html>
